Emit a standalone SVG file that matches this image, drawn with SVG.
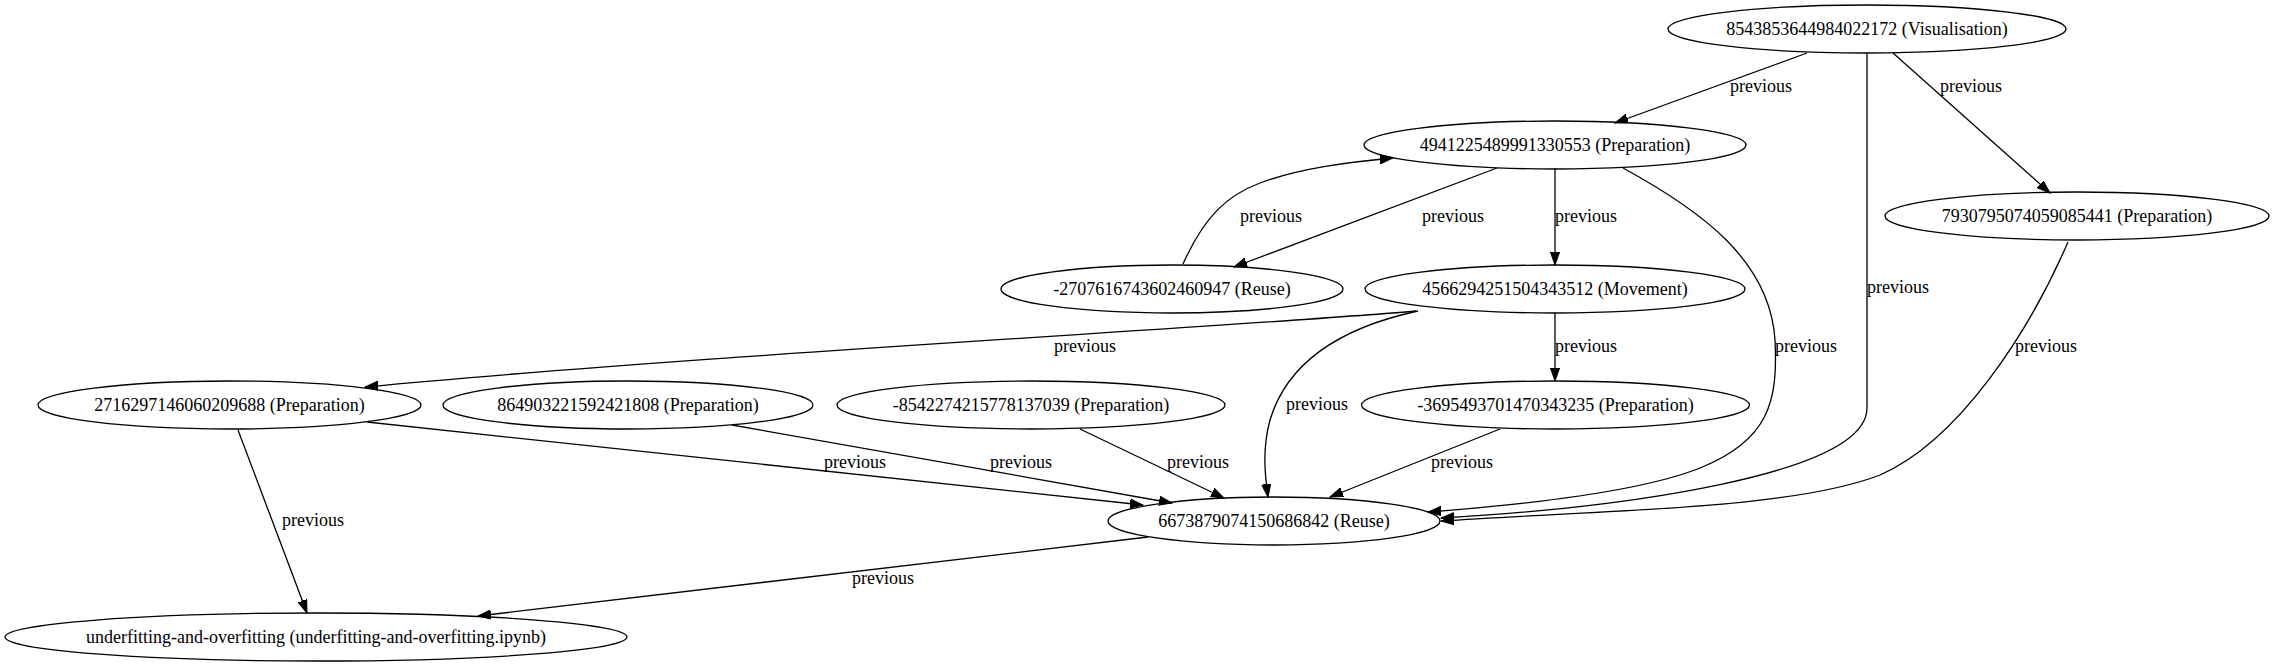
<svg xmlns="http://www.w3.org/2000/svg" width="2274" height="667" viewBox="0 0 2274 667">
<style>
.node ellipse{fill:none;stroke:#000;stroke-width:1.3}
.node text{font-family:"Liberation Serif","Times New Roman",serif;font-size:18px;text-anchor:middle;fill:#000}
.edges path{fill:none;stroke:#000;stroke-width:1.3}
.edges text{font-family:"Liberation Serif","Times New Roman",serif;font-size:18px;text-anchor:middle;fill:#000}
</style>
<defs>
<marker id="arr" markerUnits="userSpaceOnUse" markerWidth="14" markerHeight="10" refX="13" refY="5" orient="auto">
<path d="M0,0.4 L13,5 L0,9.6 z" fill="#000" stroke="#000" stroke-width="1"/>
</marker>
</defs>
<rect x="0" y="0" width="2274" height="667" fill="#fff"/>
<g id="edges" class="edges">
<path marker-end="url(#arr)" d="M1807,53 L1615,123"/>
<text x="1761" y="92">previous</text>
<path marker-end="url(#arr)" d="M1893,53 L2050,193"/>
<text x="1971" y="92">previous</text>
<path marker-end="url(#arr)" d="M1867,53 L1867,408 C1867,475 1620,508 1441,518"/>
<text x="1898" y="293">previous</text>
<path marker-end="url(#arr)" d="M1623,168 C1700,210 1770,260 1775,340 C1778,400 1770,440 1700,468 C1640,492 1520,505 1428,512"/>
<text x="1806" y="352">previous</text>
<path marker-end="url(#arr)" d="M2068,242 C2030,330 1960,440 1880,475 C1790,510 1600,510 1441,521"/>
<text x="2046" y="352">previous</text>
<path marker-end="url(#arr)" d="M1183,264 C1205,215 1228,195 1260,183 C1300,168 1350,162 1393,158"/>
<text x="1271" y="222">previous</text>
<path marker-end="url(#arr)" d="M1497,168 L1234,267"/>
<text x="1453" y="222">previous</text>
<path marker-end="url(#arr)" d="M1555,168 L1555,265"/>
<text x="1586" y="222">previous</text>
<path marker-end="url(#arr)" d="M1416,311 C1250,326 700,355 365,387"/>
<text x="1085" y="352">previous</text>
<path marker-end="url(#arr)" d="M1555,313 L1555,381"/>
<text x="1586" y="352">previous</text>
<path marker-end="url(#arr)" d="M1418,311 C1330,330 1285,370 1270,420 C1262,450 1265,475 1268,497"/>
<text x="1317" y="410">previous</text>
<path marker-end="url(#arr)" d="M367,422 L1143,505"/>
<text x="855" y="468">previous</text>
<path marker-end="url(#arr)" d="M732,425 L1172,503"/>
<text x="1021" y="468">previous</text>
<path marker-end="url(#arr)" d="M1080,429 L1224,498"/>
<text x="1198" y="468">previous</text>
<path marker-end="url(#arr)" d="M1500,429 L1330,497"/>
<text x="1462" y="468">previous</text>
<path marker-end="url(#arr)" d="M238,430 L307,613"/>
<text x="313" y="526">previous</text>
<path marker-end="url(#arr)" d="M1148,537 L478,616"/>
<text x="883" y="584">previous</text>
</g>
<g id="n_vis" class="node"><ellipse cx="1867" cy="29" rx="199" ry="24"/><text x="1867" y="35">8543853644984022172 (Visualisation)</text></g>
<g id="n_4941" class="node"><ellipse cx="1555" cy="145" rx="191" ry="24"/><text x="1555" y="151">4941225489991330553 (Preparation)</text></g>
<g id="n_7930" class="node"><ellipse cx="2077" cy="216" rx="192" ry="24"/><text x="2077" y="222">7930795074059085441 (Preparation)</text></g>
<g id="n_2707" class="node"><ellipse cx="1172" cy="289" rx="171" ry="24"/><text x="1172" y="295">-2707616743602460947 (Reuse)</text></g>
<g id="n_4566" class="node"><ellipse cx="1555" cy="289" rx="190" ry="24"/><text x="1555" y="295">4566294251504343512 (Movement)</text></g>
<g id="n_2716" class="node"><ellipse cx="229.5" cy="405" rx="191.5" ry="24"/><text x="229.5" y="411">2716297146060209688 (Preparation)</text></g>
<g id="n_8649" class="node"><ellipse cx="628" cy="405" rx="185" ry="24"/><text x="628" y="411">864903221592421808 (Preparation)</text></g>
<g id="n_8542" class="node"><ellipse cx="1031" cy="405" rx="194" ry="24"/><text x="1031" y="411">-8542274215778137039 (Preparation)</text></g>
<g id="n_3695" class="node"><ellipse cx="1555.5" cy="405" rx="194" ry="24"/><text x="1555.5" y="411">-3695493701470343235 (Preparation)</text></g>
<g id="n_6673" class="node"><ellipse cx="1274" cy="521" rx="166" ry="24"/><text x="1274" y="527">6673879074150686842 (Reuse)</text></g>
<g id="n_under" class="node"><ellipse cx="316" cy="637" rx="311" ry="24"/><text x="316" y="643">underfitting-and-overfitting (underfitting-and-overfitting.ipynb)</text></g>
</svg>
